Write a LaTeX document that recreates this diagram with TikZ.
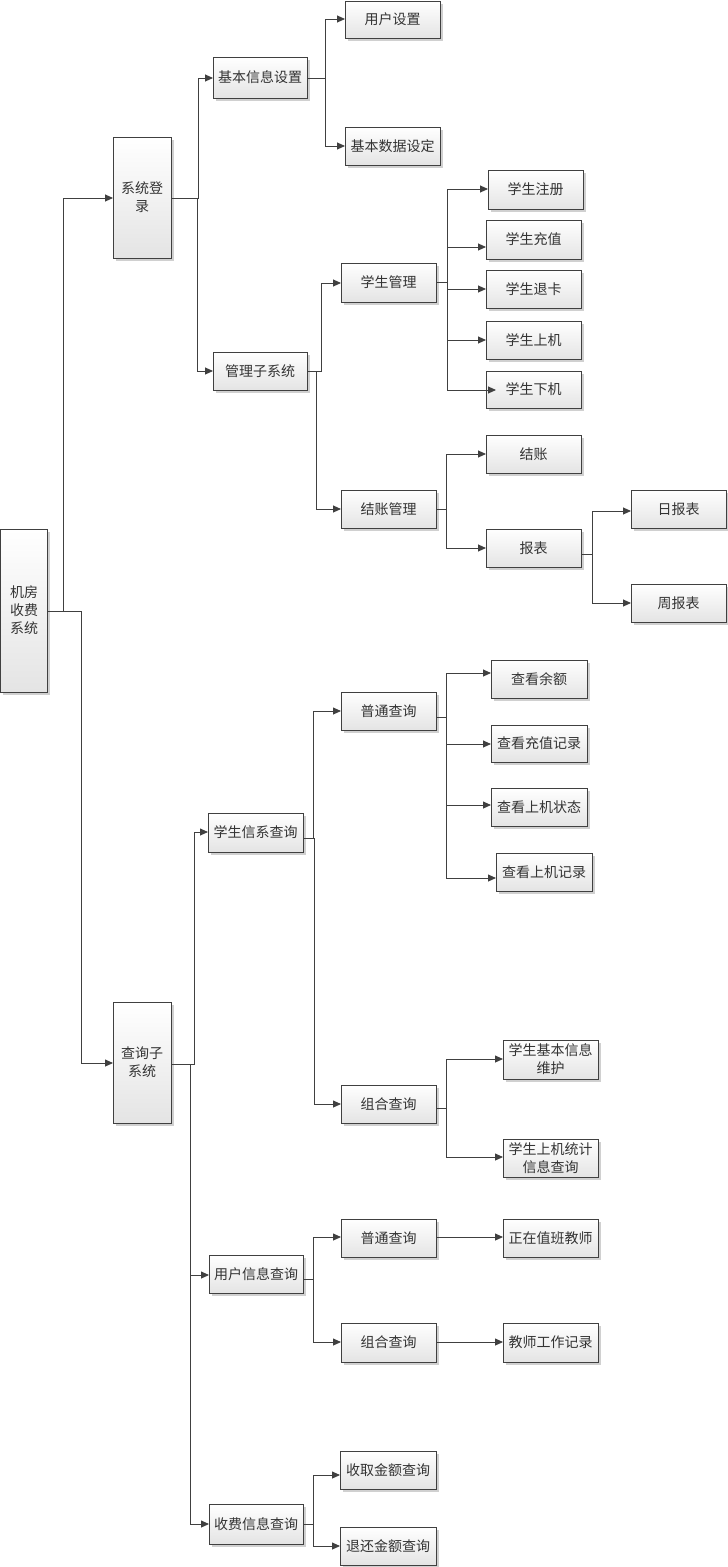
\documentclass[tikz,border=0pt]{standalone}
\usepackage{fontspec}
\newfontfamily\cjk{Noto Sans CJK SC}
\usetikzlibrary{arrows.meta,shadows}
\definecolor{linec}{HTML}{404040}
\definecolor{textc}{HTML}{333333}
\definecolor{boxbot}{HTML}{E4E4E4}
\tikzset{
  box/.style={draw=linec, line width=0.8pt, top color=white, bottom color=boxbot,
    inner sep=0pt, outer sep=0pt, anchor=north west, align=center,
    font=\cjk\fontsize{14}{18}\selectfont, text=textc,
    drop shadow={shadow xshift=2.5pt, shadow yshift=-2.5pt, fill=black!30, opacity=0.6}},
  conn/.style={draw=linec, line width=0.9pt, -{Triangle[length=8pt,width=7pt]}}
}
% elbow: source, source y, spine x, target, target y
\newcommand\elbow[5]{\draw[conn] (#1.east |- 0,#2) -| (#3,#5) -- (#4.west |- 0,#5);}
\begin{document}
\begin{tikzpicture}[x=1pt,y=-1pt]
\useasboundingbox[fill=white] (0,0) rectangle (728,1567);
% nodes
\node[box, minimum width=47pt, minimum height=163pt] (root) at (0.5,529) {机房\\收费\\系统};
\node[box, minimum width=58pt, minimum height=121pt] (sys) at (113,137) {系统登\\录};
\node[box, minimum width=94pt, minimum height=41pt] (jbxx) at (213,57) {基本信息设置};
\node[box, minimum width=95pt, minimum height=37pt] (yhsz) at (345,1) {用户设置};
\node[box, minimum width=95pt, minimum height=38pt] (jbsj) at (345,127) {基本数据设定};
\node[box, minimum width=94pt, minimum height=38pt] (glzx) at (213,352) {管理子系统};
\node[box, minimum width=95pt, minimum height=39pt] (xsgl) at (341,263) {学生管理};
\node[box, minimum width=95pt, minimum height=39pt] (zc) at (488,170) {学生注册};
\node[box, minimum width=95pt, minimum height=39pt] (cz) at (486,220) {学生充值};
\node[box, minimum width=95pt, minimum height=38pt] (tk) at (486,270) {学生退卡};
\node[box, minimum width=95pt, minimum height=38pt] (sj) at (486,321) {学生上机};
\node[box, minimum width=95pt, minimum height=37pt] (xj) at (486,371) {学生下机};
\node[box, minimum width=95pt, minimum height=38pt] (jzgl) at (341,490) {结账管理};
\node[box, minimum width=95pt, minimum height=38pt] (jz) at (486,435) {结账};
\node[box, minimum width=95pt, minimum height=38pt] (bb) at (486,529) {报表};
\node[box, minimum width=95pt, minimum height=38pt] (rbb) at (631,490) {日报表};
\node[box, minimum width=95pt, minimum height=38pt] (zbb) at (631,584) {周报表};
\node[box, minimum width=58pt, minimum height=121pt] (cx) at (113,1002) {查询子\\系统};
\node[box, minimum width=95pt, minimum height=39pt] (xscx) at (208,813) {学生信系查询};
\node[box, minimum width=95pt, minimum height=38pt] (ptcx) at (341,692) {普通查询};
\node[box, minimum width=96pt, minimum height=38pt] (ye) at (491,660) {查看余额};
\node[box, minimum width=96pt, minimum height=37pt] (czjl) at (491,725) {查看充值记录};
\node[box, minimum width=96pt, minimum height=38pt] (sjzt) at (491,788) {查看上机状态};
\node[box, minimum width=96pt, minimum height=38pt] (sjjl) at (496,853) {查看上机记录};
\node[box, minimum width=95pt, minimum height=38pt] (zhcx) at (341,1085) {组合查询};
\node[box, minimum width=95pt, minimum height=39pt] (jbwh) at (503,1040) {学生基本信息\\维护};
\node[box, minimum width=95pt, minimum height=38pt] (tjcx) at (503,1139) {学生上机统计\\信息查询};
\node[box, minimum width=94pt, minimum height=38pt] (yhcx) at (209,1255) {用户信息查询};
\node[box, minimum width=95pt, minimum height=38pt] (ptcx2) at (341,1219) {普通查询};
\node[box, minimum width=95pt, minimum height=39pt] (zhcx2) at (341,1323) {组合查询};
\node[box, minimum width=95pt, minimum height=38pt] (zzzb) at (503,1219) {正在值班教师};
\node[box, minimum width=95pt, minimum height=39pt] (jsgz) at (503,1323) {教师工作记录};
\node[box, minimum width=94pt, minimum height=40pt] (sfcx) at (209,1504) {收费信息查询};
\node[box, minimum width=96pt, minimum height=38pt] (sqje) at (340,1451) {收取金额查询};
\node[box, minimum width=96pt, minimum height=38pt] (thje) at (340,1527) {退还金额查询};
% connectors
\elbow{root}{611}{63}{sys}{198}
\elbow{root}{611}{81}{cx}{1063}
\elbow{sys}{198}{198}{jbxx}{78}
\elbow{sys}{198}{197}{glzx}{371}
\elbow{jbxx}{78}{325}{yhsz}{19}
\elbow{jbxx}{78}{325}{jbsj}{146}
\elbow{glzx}{371}{321}{xsgl}{283}
\elbow{glzx}{371}{316}{jzgl}{509}
\elbow{xsgl}{282}{447}{zc}{189}
\elbow{xsgl}{282}{447}{cz}{247}
\elbow{xsgl}{282}{447}{tk}{289}
\elbow{xsgl}{282}{447}{sj}{340}
\draw[conn] (xsgl.east |- 0,282) -| (447,390) -- ([xshift=10pt]xj.west |- 0,390);
\elbow{jzgl}{509}{446}{jz}{454}
\elbow{jzgl}{509}{446}{bb}{548}
\elbow{bb}{554}{592}{rbb}{511}
\elbow{bb}{554}{592}{zbb}{603}
\elbow{cx}{1064}{194}{xscx}{832}
\elbow{cx}{1064}{190}{yhcx}{1275}
\elbow{cx}{1064}{190}{sfcx}{1524}
\elbow{xscx}{838}{313}{ptcx}{711}
\elbow{xscx}{838}{314}{zhcx}{1104}
\elbow{ptcx}{717}{446}{ye}{673}
\elbow{ptcx}{717}{446}{czjl}{744}
\elbow{ptcx}{717}{446}{sjzt}{805}
\elbow{ptcx}{717}{446}{sjjl}{878}
\elbow{zhcx}{1108}{446}{jbwh}{1059}
\elbow{zhcx}{1108}{446}{tjcx}{1157}
\elbow{yhcx}{1279}{313}{ptcx2}{1237}
\elbow{yhcx}{1279}{313}{zhcx2}{1342}
\draw[conn] (ptcx2.east |- 0,1237) -- (zzzb.west |- 0,1237);
\draw[conn] (zhcx2.east |- 0,1342) -- (jsgz.west |- 0,1342);
\elbow{sfcx}{1524}{313}{sqje}{1475}
\elbow{sfcx}{1524}{313}{thje}{1546}
\end{tikzpicture}
\end{document}
